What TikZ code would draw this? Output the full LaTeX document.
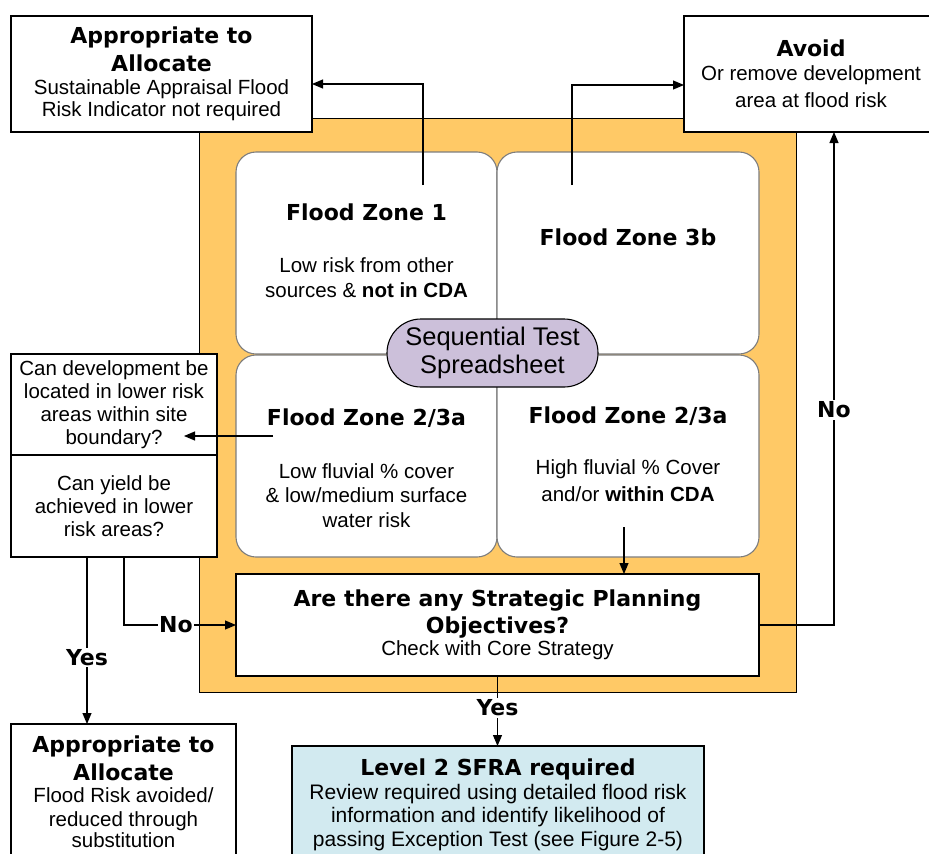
\documentclass[tikz,border=0pt]{standalone}
\usepackage{fontspec}
\setmainfont{Liberation Sans}
\newfontfamily\tfont{DejaVu Sans}
\usetikzlibrary{arrows.meta,calc}
\definecolor{frameorange}{RGB}{255,201,102}
\definecolor{lav}{RGB}{204,192,218}
\definecolor{paleblue}{RGB}{210,234,240}
\definecolor{quadgray}{RGB}{125,125,125}
\newcommand\ttlf{\tfont\bfseries\fontsize{22}{26}\selectfont}
\newcommand\bdyf{\rmfamily\mdseries\fontsize{20.5}{23}\selectfont}
\newcommand\lvf{\rmfamily\mdseries\fontsize{21}{23}\selectfont}
\begin{document}
\begin{tikzpicture}[x=1pt,y=-1pt,
 box/.style={draw, line width=1.3pt, fill=white, align=center, inner sep=0pt, outer sep=0pt, font=\bdyf},
 quad/.style={draw=quadgray, line width=1.1pt, fill=white, rounded corners=20pt, inner sep=0pt, outer sep=0pt},
 ztext/.style={align=center, font=\bdyf, inner sep=0pt},
 arr/.style={-{Triangle[length=11pt,width=9pt]}, line width=1.1pt},
 lbl/.style={font=\ttlf, fill=white, inner sep=1.5pt}]
\useasboundingbox (0,0) rectangle (929,854);
\clip (0,0) rectangle (929,854);
\fill[white] (0,0) rectangle (929,854);
% orange frame
\node[draw, line width=1pt, fill=frameorange, minimum width=597pt, minimum height=574pt, inner sep=0pt, outer sep=0pt] (frame) at (497.5,405) {};
% quadrants
\node[quad, minimum width=261pt, minimum height=202pt] (fz1) at (366.5,253) {};
\node[quad, minimum width=262pt, minimum height=202pt] (fz3) at (628,253) {};
\node[quad, minimum width=261pt, minimum height=202pt] (fz2l) at (366.5,456) {};
\node[quad, minimum width=262pt, minimum height=202pt] (fz2r) at (628,456) {};
\node[ztext] (fz1t) at (366.5,251) {\ttlf Flood Zone 1\\[29pt]\bdyf Low risk from other\\[2pt]\bdyf sources \& {\bfseries not in CDA}};
\node[ztext] (fz3t) at (628,237) {\ttlf Flood Zone 3b};
\node[ztext] (fz2lt) at (366.5,468) {\ttlf Flood Zone 2/3a\\[30pt]\bdyf Low fluvial \% cover\\[1pt]\bdyf \& low/medium surface\\[2pt]\bdyf water risk};
\node[ztext] (fz2rt) at (628,454) {\ttlf Flood Zone 2/3a\\[28pt]\bdyf High fluvial \% Cover\\[4pt]\bdyf and/or {\bfseries within CDA}};
% oval
\node[draw, line width=1.1pt, fill=lav, rounded corners=34pt, minimum width=211pt, minimum height=68pt, align=center, inner sep=0pt, font=\fontsize{25.5}{28}\selectfont] (seq) at (492.5,353) {Sequential Test\\Spreadsheet};
% boxes
\node[box, minimum width=301pt, minimum height=116pt] (tl) at (161.5,74) {\ttlf Appropriate to\\[5pt]\ttlf Allocate\\\bdyf Sustainable Appraisal Flood\\[-1pt]\bdyf Risk Indicator not required};
\node[box, minimum width=254pt, minimum height=116pt] (avoid) at (811,74) {\ttlf Avoid\\[1pt]\bdyf Or remove development\\[4pt]\bdyf area at flood risk};
\node[box, minimum width=206pt, minimum height=101pt] (lq1) at (114,404.5) {Can development be\\located in lower risk\\areas within site\\boundary?};
\node[box, minimum width=206pt, minimum height=102pt] (lq2) at (114,506) {Can yield be\\achieved in lower\\risk areas?};
\node[box, minimum width=523pt, minimum height=102pt] (strat) at (497.5,625) {\ttlf Are there any Strategic Planning\\[4pt]\ttlf Objectives?\\[-1pt]\bdyf Check with Core Strategy};
\node[box, minimum width=225pt, minimum height=136pt] (bl) at (123.5,792) {\ttlf Appropriate to\\[5pt]\ttlf Allocate\\[-1pt]\bdyf Flood Risk avoided/\\[1pt]\bdyf reduced through\\[-2pt]\bdyf substitution};
\node[box, fill=paleblue, minimum width=412pt, minimum height=118pt] (lvl2) at (498,805) {\ttlf Level 2 SFRA required\\[1pt]\lvf Review required using detailed flood risk\\\lvf information and identify likelihood of\\[1pt]\lvf passing Exception Test (see Figure 2-5)};
% connectors
\coordinate (a1) at (423,185);
\draw[arr] (a1) |- ([yshift=-10pt]tl.east);
\coordinate (a2) at (572,185);
\draw[arr] (a2) |- ([yshift=-11pt]avoid.west);
\coordinate (a3s) at (273,436);
\coordinate (a3e) at (184,436);
\draw[arr] (a3s) -- (a3e);
\coordinate (a4) at (624,527);
\draw[arr] (a4) -- (a4 |- strat.north);
\draw[arr] (strat.east) -| node[lbl, pos=0.718] (no1) {No} ([xshift=23pt]avoid.south);
\coordinate (a6) at (87,557);
\draw[arr] (a6) -- node[lbl, pos=0.6] (yes1) {Yes} (a6 |- bl.north);
\coordinate (a7) at (124,557);
\draw[arr] (a7) |- node[lbl, pos=0.732] (no2) {No} (strat.west);
\draw[arr] (strat.south) -- node[lbl, pos=0.457] (yes2) {Yes} (strat.south |- lvl2.north);
\end{tikzpicture}
\end{document}
